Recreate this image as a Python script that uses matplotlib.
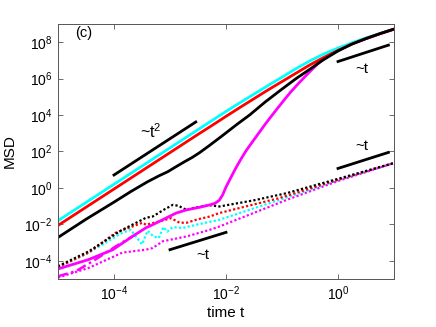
import numpy as np
import matplotlib
matplotlib.use("Agg")
import matplotlib.pyplot as plt

plt.rcParams['font.family'] = ['Liberation Sans', 'DejaVu Sans']
plt.rcParams['mathtext.fontset'] = 'custom'
plt.rcParams['mathtext.rm'] = 'Liberation Sans'
plt.rcParams['mathtext.it'] = 'Liberation Sans:italic'

# ---- data (log10 values) ----
cyan_solid_logt = [-5.0, -4.0, -3.0, -2.5, -2.25, -2.0, -1.75, -1.5, -1.25, -1.0, -0.75, -0.5, -0.25, 0.0, 0.25, 0.5, 0.75, 0.98]
cyan_solid_logm = [-1.80, 0.20, 2.20, 3.20, 3.70, 4.20, 4.68, 5.15, 5.62, 6.08, 6.55, 6.98, 7.36, 7.68, 7.97, 8.24, 8.48, 8.70]

red_solid_logt = [-5.0, -4.0, -3.0, -2.5, -2.25, -2.0, -1.75, -1.5, -1.25, -1.0, -0.75, -0.5, -0.25, 0.0, 0.25, 0.5, 0.75, 0.98]
red_solid_logm = [-2.06, -0.06, 1.94, 2.94, 3.43, 3.93, 4.42, 4.90, 5.38, 5.84, 6.30, 6.76, 7.17, 7.55, 7.90, 8.20, 8.47, 8.70]

black_solid_logt = [-5.0, -4.5, -4.0, -3.7, -3.4, -3.2, -3.04, -2.9, -2.74, -2.6, -2.47, -2.3, -2.06, -1.8, -1.58,
                    -1.3, -0.99, -0.75, -0.51, -0.28, 0.0, 0.25, 0.5, 0.75, 0.98]
black_solid_logm = [-2.72, -1.72, -0.78, -0.20, 0.34, 0.66, 0.89, 1.15, 1.44, 1.68, 1.94, 2.32, 2.88, 3.50, 4.00,
                    4.72, 5.45, 6.00, 6.50, 7.00, 7.52, 7.90, 8.20, 8.47, 8.70]

mag_solid_logt = [-5.0, -4.45, -4.02, -3.67, -3.43, -3.31, -2.89, -2.70, -2.45, -2.29, -2.2, -2.12, -2.06, -2.0, -1.9,
                  -1.82, -1.73, -1.64, -1.5, -1.3, -1.15, -0.99, -0.85, -0.69, -0.51, -0.35, -0.16, 0.03, 0.25,
                  0.5, 0.75, 0.98]
mag_solid_logm = [-4.45, -3.93, -3.39, -2.66, -2.19, -2.02, -1.38, -1.20, -1.05, -0.93, -0.85, -0.68, -0.38, 0.05, 0.65,
                  1.12, 1.60, 2.05, 2.65, 3.50, 4.10, 4.72, 5.25, 5.79, 6.36, 6.85, 7.27, 7.60, 7.92, 8.20,
                  8.47, 8.70]

mag_dashdot_logt = [-5.0, -4.68, -4.33, -3.97, -3.67]
mag_dashdot_logm = [-4.85, -4.57, -3.93, -3.21, -2.66]

black_dot_logt = [-5.0, -4.45, -3.87, -3.43, -3.31, -3.1, -2.95, -2.85, -2.71, -2.55, -2.29, -2.12, -1.5, -0.92, 0.0, 0.98]
black_dot_logm = [-4.30, -3.48, -2.33, -1.64, -1.57, -1.18, -0.93, -0.98, -1.20, -1.08, -0.95, -1.02, -0.68, -0.29, 0.50, 1.35]

red_dot_logt = [-5.0, -4.45, -3.97, -3.49, -3.43, -3.2, -2.98, -2.83, -2.70, -2.5, -2.29, -2.12, -1.05, 0.0, 0.98]
red_dot_logm = [-4.35, -3.55, -2.46, -1.91, -2.02, -1.85, -1.66, -1.91, -1.91, -1.72, -1.57, -1.38, -0.56, 0.45, 1.35]

cyan_dot_logt = [-5.0, -4.45, -3.85, -3.70, -3.50, -3.40, -3.30, -3.20, -3.12, -3.05, -2.95, -2.78, -2.5, -2.12, -1.05, 0.0, 0.98]
cyan_dot_logm = [-4.35, -3.55, -2.46, -2.30, -3.10, -2.35, -2.65, -2.75, -2.15, -2.40, -2.15, -2.20, -2.00, -1.75, -0.66, 0.42, 1.35]

mag_dot_logt = [-5.0, -4.45, -3.85, -3.43, -3.31, -3.13, -2.70, -2.29, -2.11, -0.92, 0.0, 0.98]
mag_dot_logm = [-4.92, -4.39, -3.55, -3.39, -3.30, -2.93, -2.66, -2.30, -2.11, -0.66, 0.38, 1.35]

# reference slope lines (log10 endpoints)
ref_t2_logt = [-4.0, -2.54]
ref_t2_logm = [0.71, 3.62]
ref_t_up_logt = [0.0, 0.9]
ref_t_up_logm = [6.94, 7.84]
ref_t_lowr_logt = [0.0, 0.9]
ref_t_lowr_logm = [1.07, 1.95]
ref_t_low_logt = [-3.0, -2.0]
ref_t_low_logm = [-3.39, -2.44]

def p(a):
    return 10.0 ** np.asarray(a)

fig = plt.figure(figsize=(4.36, 3.27), dpi=100)
ax = fig.add_axes([0.133, 0.1468, 0.7707, 0.7798])

dot = (0, (1, 1))
lw_dot = 1.6
ax.plot(p(mag_dot_logt), p(mag_dot_logm), color='#ff00ff', ls=dot, lw=lw_dot)
ax.plot(p(cyan_dot_logt), p(cyan_dot_logm), color='#00ffff', ls=dot, lw=lw_dot)
ax.plot(p(red_dot_logt), p(red_dot_logm), color='#ff0000', ls=dot, lw=lw_dot)
ax.plot(p(black_dot_logt), p(black_dot_logm), color='k', ls=dot, lw=lw_dot)
ax.plot(p(mag_dashdot_logt), p(mag_dashdot_logm), color='#ff00ff', ls=(0, (4, 1.5, 1, 1.5)), lw=1.8)

lw = 2.0
ax.plot(p(mag_solid_logt), p(mag_solid_logm), color='#ff00ff', lw=lw)
ax.plot(p(cyan_solid_logt), p(cyan_solid_logm), color='#00ffff', lw=lw)
ax.plot(p(red_solid_logt), p(red_solid_logm), color='#ff0000', lw=lw)
ax.plot(p(black_solid_logt), p(black_solid_logm), color='k', lw=lw)

for lt, lm in [(ref_t2_logt, ref_t2_logm), (ref_t_up_logt, ref_t_up_logm),
               (ref_t_lowr_logt, ref_t_lowr_logm), (ref_t_low_logt, ref_t_low_logm)]:
    ax.plot(p(lt), p(lm), color='k', lw=2.0)

fs = 10
ax.text(10**-3.35, 10**3.1, '~t$^2$', fontsize=11.5, ha='center', va='center')
ax.text(10**0.42, 10**6.55, '~t', fontsize=11, ha='center', va='center')
ax.text(10**0.42, 10**2.3, '~t', fontsize=11, ha='center', va='center')
ax.text(10**-2.42, 10**-3.7, '~t', fontsize=11, ha='center', va='center')
ax.text(10**-4.55, 10**8.5, '(c)', fontsize=10.5, ha='center', va='center')

ax.set_xscale('log')
ax.set_yscale('log')
ax.set_xlim(1e-5, 1e1)
ax.set_ylim(1e-5, 1e9)
ax.set_xticks([1e-4, 1e-2, 1e0])
ax.set_yticks([1e-4, 1e-2, 1e0, 1e2, 1e4, 1e6, 1e8])
ax.minorticks_off()
ax.tick_params(direction='in', top=True, right=True, length=3.5, width=0.6,
               color='#555555', labelsize=fs, pad=4)
for s in ax.spines.values():
    s.set_color('#555555')
    s.set_linewidth(0.7)
ax.set_xlabel('time t', fontsize=11, labelpad=2)
ax.set_ylabel('MSD', fontsize=11, labelpad=5)

fig.savefig('out.png', dpi=100)
